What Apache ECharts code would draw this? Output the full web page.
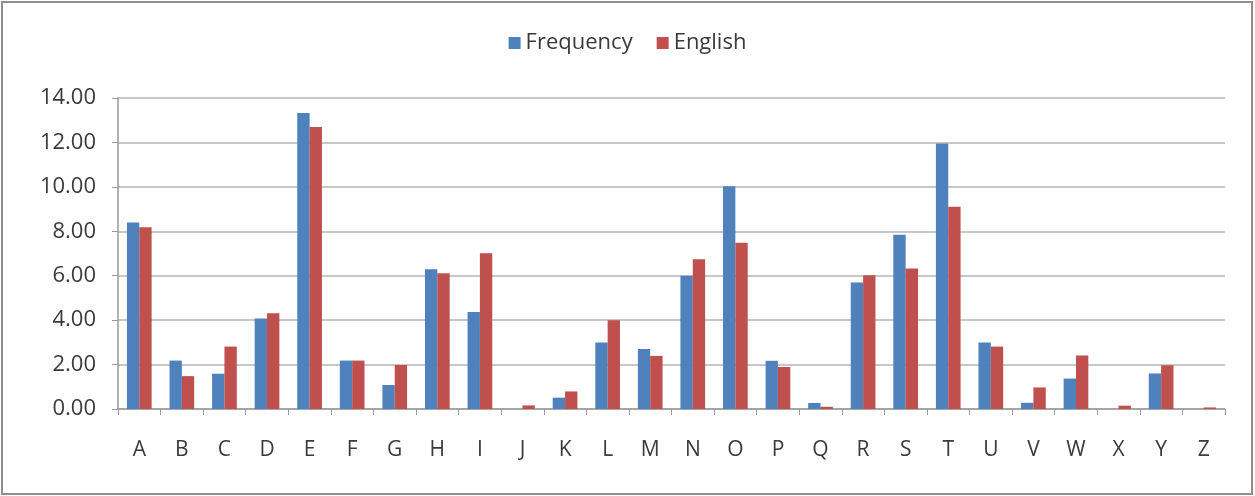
<!DOCTYPE html>
<html>
<head>
<meta charset="utf-8">
<script src="https://cdn.jsdelivr.net/npm/echarts@6/dist/echarts.min.js"></script>
<style>
html,body{margin:0;padding:0;background:#fff;}
#c{width:1255px;height:496px;}
</style>
</head>
<body>
<div id="c"></div>
<script>
const categories = ['A','B','C','D','E','F','G','H','I','J','K','L','M','N','O','P','Q','R','S','T','U','V','W','X','Y','Z'];
const frequency = [8.40,2.18,1.59,4.07,13.32,2.18,1.08,6.29,4.37,0,0.51,2.99,2.70,6.00,10.03,2.17,0.27,5.69,7.84,11.95,2.99,0.28,1.37,0,1.60,0];
const english = [8.18,1.48,2.81,4.31,12.70,2.18,1.98,6.11,7.01,0.16,0.79,4.00,2.39,6.74,7.48,1.89,0.10,6.02,6.33,9.10,2.81,0.97,2.41,0.15,1.97,0.07];
const yTicks = {min:0, max:14, interval:2};

const chart = echarts.init(document.getElementById('c'));
const font = '"Open Sans", "Liberation Sans", sans-serif';
chart.setOption({
  animation:false,
  backgroundColor:'#fff',
  textStyle:{fontFamily:font},
  graphic:[{type:'rect', shape:{x:2,y:2,width:1250,height:492}, style:{fill:'none', stroke:'#8f8f8f', lineWidth:2}, silent:true}],
  legend:{
    data:['Frequency','English'],
    top:27, left:'center',
    itemWidth:12, itemHeight:12, itemGap:24, itemTextGap:8,
    icon:'rect',
    textStyle:{fontSize:22, color:'#3a3a3a', fontFamily:font}
  },
  grid:{left:118, right:30, top:98, bottom:87, containLabel:false},
  xAxis:{
    type:'category', data:categories,
    axisLine:{lineStyle:{color:'#9a9a9a', width:1.5}},
    axisTick:{show:true, length:6, lineStyle:{color:'#9a9a9a'}},
    axisLabel:{fontSize:21, color:'#3a3a3a', margin:31, fontFamily:font}
  },
  yAxis:{
    type:'value', min:yTicks.min, max:yTicks.max, interval:yTicks.interval,
    axisLine:{show:true, lineStyle:{color:'#9a9a9a', width:1.5}},
    axisTick:{show:true, length:6, lineStyle:{color:'#9a9a9a'}},
    axisLabel:{fontSize:22, color:'#3a3a3a', margin:22, formatter:v=>v.toFixed(2), fontFamily:font},
    splitLine:{lineStyle:{color:'#b4b4b4', width:1.5}}
  },
  series:[
    {name:'Frequency', type:'bar', data:frequency, barGap:'0%', barCategoryGap:'42%', itemStyle:{color:'#4F81BD'}},
    {name:'English', type:'bar', data:english, barGap:'0%', barCategoryGap:'42%', itemStyle:{color:'#C0504D'}}
  ]
});
</script>
</body>
</html>
